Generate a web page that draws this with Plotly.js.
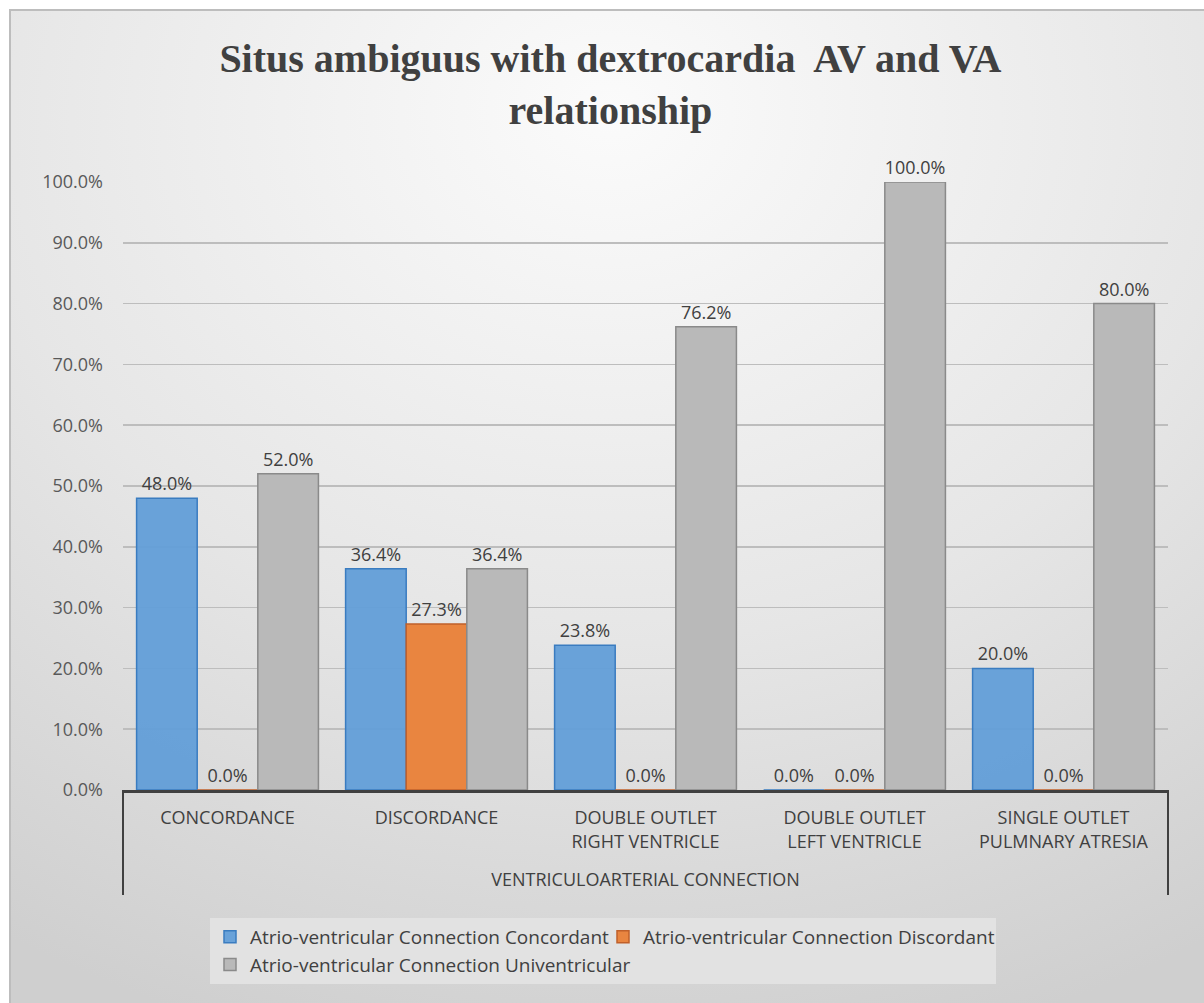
<!DOCTYPE html>
<html>
<head>
<meta charset="utf-8">
<script src="https://cdn.plot.ly/plotly-3.0.1.min.js"></script>
<style>html,body{margin:0;padding:0;background:#fff;}#chart{width:1204px;height:1003px;}</style>
</head>
<body>
<div id="chart"></div>
<script>
// ---- data ----
const groupLabel = "VENTRICULOARTERIAL CONNECTION";
const categories = ["CONCORDANCE", "DISCORDANCE", "DOUBLE OUTLET<br>RIGHT VENTRICLE", "DOUBLE OUTLET<br>LEFT VENTRICLE", "SINGLE OUTLET<br>PULMNARY ATRESIA"];
const seriesNames = ["Atrio-ventricular Connection Concordant", "Atrio-ventricular Connection Discordant", "Atrio-ventricular Connection Univentricular"];
const concordant = [48.0, 36.4, 23.8, 0.0, 20.0];
const discordant = [0.0, 27.3, 0.0, 0.0, 0.0];
const univentricular = [52.0, 36.4, 76.2, 100.0, 80.0];
const yTicks = [0, 10, 20, 30, 40, 50, 60, 70, 80, 90, 100];
const yTickText = yTicks.map(v => v.toFixed(1) + "%");

const labelFont = {family: "Open Sans, Noto Sans, sans-serif", size: 18, color: "#404040"};

function barTrace(name, values, fill, edge) {
  return {
    type: "bar", name: name, x: categories, y: values,
    marker: {color: fill, line: {color: edge, width: 1.5}},
    texttemplate: "%{y:.1f}%", textposition: "outside", textfont: labelFont,
    cliponaxis: false, hoverinfo: "skip"
  };
}

const traces = [
  barTrace(seriesNames[0], concordant, "rgba(98,158,216,0.95)", "#3a7cc0"),
  barTrace(seriesNames[1], discordant, "#e98540", "#c0602a"),
  barTrace(seriesNames[2], univentricular, "#b9b9b9", "#8a8a8a")
];

const bgSvg = '<svg xmlns="http://www.w3.org/2000/svg" width="1204" height="1003">' +
  '<defs><radialGradient id="g" cx="0.5" cy="0.12" r="0.95" fx="0.5" fy="0.1">' +
  '<stop offset="0" stop-color="#fbfbfb"/><stop offset="0.55" stop-color="#e6e6e6"/><stop offset="1" stop-color="#cfcfcf"/>' +
  '</radialGradient></defs><rect x="0" y="0" width="1204" height="1003" fill="#ffffff"/>' +
  '<rect x="10" y="10" width="1200" height="1000" fill="url(#g)" stroke="#bdbdbd" stroke-width="2"/></svg>';

const L = 123, R = 36, T = 182, B = 213;
const pw = 1204 - L - R, ph = 1003 - T - B;
const dividerBottom = (790 - 895) / ph;

const layout = {
  width: 1204, height: 1003,
  margin: {l: L, r: R, t: T, b: B},
  paper_bgcolor: "#e6e6e6", plot_bgcolor: "rgba(0,0,0,0)",
  showlegend: true,
  title: {
    text: "Situs ambiguus with dextrocardia  AV and VA<br>relationship",
    font: {family: "Liberation Serif, DejaVu Serif, serif", size: 40, color: "#404040", weight: "bold"},
    x: 0.507, xref: "container", xanchor: "center",
    y: 0.928, yref: "container", yanchor: "top"
  },
  barmode: "group", bargap: 0.13, bargroupgap: 0.0,
  xaxis: {
    type: "category",
    showline: true, linecolor: "#404040", linewidth: 2.5,
    showgrid: false, ticks: "",
    tickfont: {family: "Open Sans, Noto Sans, sans-serif", size: 18, color: "#404040"},
    ticklabelstandoff: 10,
    title: {text: groupLabel, standoff: 22, font: {family: "Open Sans, Noto Sans, sans-serif", size: 18, color: "#404040"}},
    automargin: false,
    fixedrange: true
  },
  yaxis: {
    range: [0, 100], tickvals: yTicks, ticktext: yTickText,
    tickfont: {family: "Open Sans, Noto Sans, sans-serif", size: 18, color: "#595959"},
    showgrid: true, gridcolor: "#bdbdbd", gridwidth: 1.5,
    zeroline: false, showline: false, ticks: "", ticklabelstandoff: 19,
    fixedrange: true
  },
  shapes: [
    {type: "line", xref: "paper", yref: "paper", x0: 0, x1: 0, y0: 0, y1: dividerBottom, line: {color: "#404040", width: 2}},
    {type: "line", xref: "paper", yref: "paper", x0: 1, x1: 1, y0: 0, y1: dividerBottom, line: {color: "#404040", width: 2}}
  ],
  legend: {
    orientation: "h",
    x: (210 - L) / pw, xanchor: "left",
    y: (790 - 918) / ph, yanchor: "top",
    bgcolor: "#e2e2e2",
    font: {family: "Open Sans, Noto Sans, sans-serif", size: 19, color: "#404040"},
    entrywidth: 348, entrywidthmode: "pixels",
    itemwidth: 30, tracegroupgap: 0
  },
  images: [{
    source: "data:image/svg+xml;charset=utf-8," + encodeURIComponent(bgSvg),
    xref: "paper", yref: "paper",
    x: -L / pw, y: 1 + T / ph, sizex: 1204 / pw, sizey: 1003 / ph,
    xanchor: "left", yanchor: "top", sizing: "stretch", layer: "below"
  }]
};

Plotly.newPlot("chart", traces, layout, {displayModeBar: false, staticPlot: true});
</script>
</body>
</html>
